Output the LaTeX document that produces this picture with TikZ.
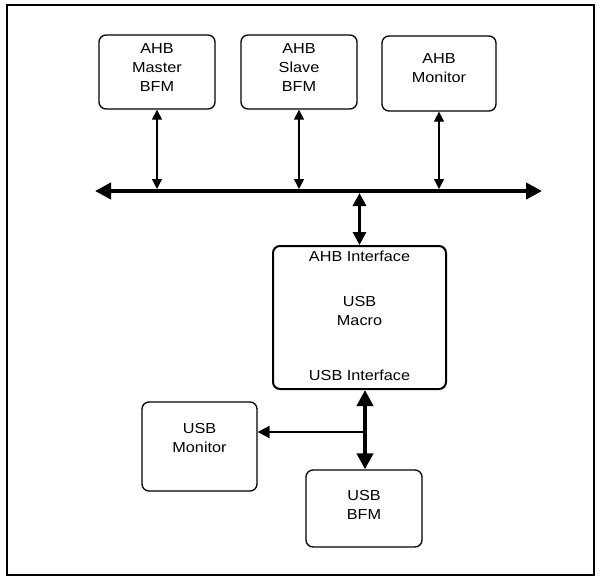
\documentclass[tikz,border=0pt]{standalone}
\usepackage{fontspec}
\setmainfont{Liberation Sans}[FakeStretch=1.12]
\usetikzlibrary{arrows.meta}
\begin{document}
\begin{tikzpicture}[x=1pt,y=-1pt,
  box/.style={draw,rounded corners=7pt,line width=1.3pt,inner sep=0pt},
  txt/.style={align=center,inner sep=0pt,font=\fontsize{14.5}{19}\selectfont},
  thin/.style={line width=1.3pt,{Triangle[length=10pt,width=10pt]}-{Triangle[length=10pt,width=10pt]}},
  mid/.style={line width=3pt,{Triangle[length=13pt,width=13pt]}-{Triangle[length=13pt,width=13pt]}},
  thick/.style={line width=4pt,{Triangle[length=16pt,width=16pt]}-{Triangle[length=16pt,width=16pt]}}]
\useasboundingbox (0,0) rectangle (600,581);
\draw[line width=2pt] (7,5) rectangle (594,575);
% AHB side boxes
\node[box,minimum width=116pt,minimum height=74pt] (mst) at (157,72) {};
\node[txt] (mstt) at (157,67.5) {AHB\\Master\\BFM};
\node[box,minimum width=116pt,minimum height=74pt] (slv) at (299,72) {};
\node[txt] (slvt) at (299,67.5) {AHB\\Slave\\BFM};
\node[box,minimum width=114pt,minimum height=75pt] (amon) at (439,73.5) {};
\node[txt] (amont) at (439,68.5) {AHB\\Monitor};
% bus
\coordinate (busL) at (95,191);
\coordinate (busR) at (542,191);
\draw[thick] (busL) -- (busR);
\coordinate (b1) at (157,189);
\coordinate (b2) at (299,189);
\coordinate (b3) at (439,189);
\draw[thin] (mst.south) -- (b1);
\draw[thin] (slv.south) -- (b2);
\draw[thin] (amon.south) -- (b3);
% macro
\node[box,line width=2pt,minimum width=173pt,minimum height=143pt] (mac) at (359.5,317.5) {};
\node[txt] (ahbif) at (359.5,256) {AHB Interface};
\node[txt] (mact) at (359.5,311) {USB\\Macro};
\node[txt] (usbif) at (359.5,375) {USB Interface};
\coordinate (b4) at (359.5,193);
\draw[mid] (b4) -- (mac.north);
% USB side
\node[box,minimum width=115pt,minimum height=89pt] (umon) at (199.5,446.5) {};
\node[txt] (umont) at (199.5,438.5) {USB\\Monitor};
\node[box,minimum width=116pt,minimum height=77pt] (ubfm) at (364,508.5) {};
\node[txt] (ubfmt) at (364,505) {USB\\BFM};
\coordinate (j) at (365,432);
\draw[thick] (mac.south -| j) -- (ubfm.north -| j);
\draw[line width=2pt,-{Triangle[length=12pt,width=12pt]}] (j) -- (j -| umon.east);
\end{tikzpicture}
\end{document}
